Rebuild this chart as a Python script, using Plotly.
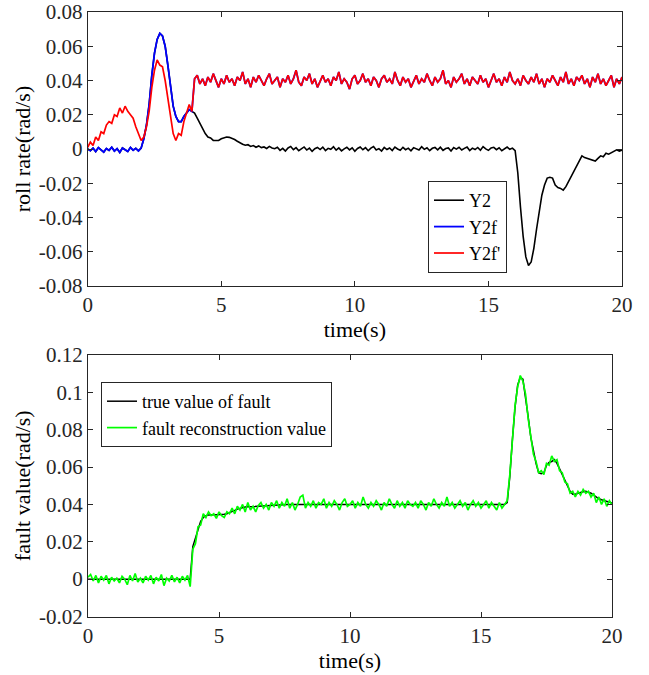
import numpy as np
import plotly.graph_objects as go

time_s = np.round(np.arange(0, 20.0001, 0.1), 1)

# Y2 : roll rate (black)
y2 = [
    0.0000, -0.0010, 0.0005, -0.0015, 0.0008, -0.0005, -0.0018, 0.0003, -0.0008, 0.0010,
    -0.0012, 0.0002, -0.0020, 0.0006, -0.0004, -0.0014, 0.0009, -0.0007, 0.0004, -0.0011,
    0.0005, 0.006, 0.014, 0.026, 0.043, 0.056, 0.064, 0.0675, 0.066, 0.060,
    0.049, 0.036, 0.025, 0.019, 0.016, 0.016, 0.019, 0.021, 0.023, 0.022,
    0.021, 0.018, 0.015, 0.012, 0.009, 0.007, 0.0065, 0.005, 0.0048, 0.005,
    0.006, 0.0065, 0.007, 0.0068, 0.0062, 0.0055, 0.0045, 0.0035, 0.0028, 0.0022,
    0.0025, 0.0015, 0.0020, 0.0010, 0.0018, 0.0008, 0.0012, 0.0003, 0.0015, 0.0006,
    0.0002, 0.0010, -0.0008, 0.0004, -0.0012, 0.0006, 0.0015, -0.0004, 0.0008, -0.0010,
    0.0003, 0.0012, -0.0006, 0.0005, -0.0014, 0.0002, 0.0009, -0.0003, 0.0011, -0.0009,
    0.0004, -0.0002, 0.0013, -0.0007, 0.0006, -0.0011, 0.0001, 0.0010, -0.0005, 0.0007,
    -0.0013, 0.0003, 0.0012, -0.0004, 0.0008, -0.0010, 0.0005, 0.0014, -0.0006, 0.0002,
    -0.0012, 0.0009, -0.0003, 0.0006, -0.0009, 0.0011, 0.0000, -0.0007, 0.0010, -0.0004,
    0.0005, -0.0011, 0.0008, 0.0002, -0.0006, 0.0013, -0.0002, 0.0007, -0.0010, 0.0004,
    0.0009, -0.0005, 0.0011, -0.0008, 0.0003, 0.0006, -0.0012, 0.0008, -0.0001, 0.0010,
    -0.0006, 0.0004, 0.0012, -0.0009, 0.0005, -0.0003, 0.0009, -0.0007, 0.0014, 0.0001,
    -0.0008, 0.0006, 0.0010, -0.0004, 0.0007, -0.0010, 0.0003, 0.0011, -0.0002, 0.0005,
    -0.001, -0.014, -0.034, -0.051, -0.063, -0.068, -0.066, -0.058, -0.047, -0.036,
    -0.027, -0.021, -0.017, -0.0165, -0.017, -0.021, -0.0225, -0.023, -0.024, -0.022,
    -0.019, -0.016, -0.013, -0.010, -0.007, -0.004, -0.005, -0.0055, -0.006, -0.0065,
    -0.007, -0.0055, -0.004, -0.0045, -0.0025, -0.003, -0.002, -0.0015, -0.0005, -0.0012,
    -0.0006,
]

# Y2f' : reconstructed faulty roll rate (red)
y2f_rec = [
    0.001, 0.004, 0.002, 0.007, 0.005, 0.010, 0.009, 0.014, 0.016, 0.015,
    0.020, 0.019, 0.024, 0.021, 0.025, 0.022, 0.020, 0.018, 0.013, 0.009,
    0.005, 0.007, 0.013, 0.022, 0.036, 0.046, 0.052, 0.049, 0.048, 0.040,
    0.030, 0.018, 0.009, 0.005, 0.009, 0.008, 0.016, 0.021, 0.026, 0.022,
    0.041, 0.043, 0.038, 0.041, 0.037, 0.042, 0.039, 0.044, 0.040, 0.036,
    0.041, 0.038, 0.043, 0.039, 0.041, 0.037, 0.042, 0.040, 0.045, 0.038,
    0.041, 0.036, 0.042, 0.039, 0.043, 0.040, 0.037, 0.041, 0.044, 0.038,
    0.040, 0.042, 0.036, 0.041, 0.039, 0.043, 0.038, 0.041, 0.046, 0.039,
    0.037, 0.042, 0.040, 0.044, 0.038, 0.041, 0.036, 0.040, 0.043, 0.039,
    0.041, 0.037, 0.042, 0.040, 0.045, 0.038, 0.041, 0.039, 0.035, 0.041,
    0.043, 0.038, 0.040, 0.044, 0.039, 0.041, 0.037, 0.042, 0.040, 0.036,
    0.041, 0.043, 0.039, 0.041, 0.038, 0.045, 0.040, 0.037, 0.042, 0.039,
    0.041, 0.036, 0.040, 0.043, 0.038, 0.041, 0.039, 0.044, 0.040, 0.037,
    0.042, 0.039, 0.041, 0.046, 0.038, 0.040, 0.036, 0.042, 0.039, 0.041,
    0.044, 0.038, 0.041, 0.037, 0.042, 0.040, 0.038, 0.043, 0.039, 0.041,
    0.036, 0.040, 0.044, 0.039, 0.041, 0.037, 0.042, 0.039, 0.045, 0.040,
    0.038, 0.041, 0.037, 0.043, 0.040, 0.038, 0.042, 0.039, 0.044, 0.038,
    0.041, 0.036, 0.041, 0.039, 0.043, 0.040, 0.037, 0.042, 0.039, 0.045,
    0.038, 0.041, 0.037, 0.042, 0.040, 0.043, 0.038, 0.041, 0.036, 0.042,
    0.039, 0.044, 0.038, 0.041, 0.037, 0.040, 0.043, 0.036, 0.041, 0.038,
    0.042,
]

# Y2f : faulty roll rate (blue); first 4 s read separately, afterwards it lies under Y2f'
y2f_first4s = [
    0.0000, -0.0010, 0.0005, -0.0015, 0.0008, -0.0005, -0.0018, 0.0003, -0.0008, 0.0010,
    -0.0012, 0.0002, -0.0020, 0.0006, -0.0004, -0.0014, 0.0009, -0.0007, 0.0004, -0.0011,
    0.0005, 0.006, 0.014, 0.026, 0.043, 0.056, 0.064, 0.0675, 0.066, 0.060,
    0.049, 0.036, 0.025, 0.019, 0.016, 0.016, 0.019, 0.021, 0.023, 0.022,
]
y2f = y2f_first4s + y2f_rec[len(y2f_first4s):]

# true value of fault (black, lower plot)
fault_true = [
    0.0, 0.0, 0.0, 0.0, 0.0, 0.0, 0.0, 0.0, 0.0, 0.0,
    0.0, 0.0, 0.0, 0.0, 0.0, 0.0, 0.0, 0.0, 0.0, 0.0,
    0.0, 0.0, 0.0, 0.0, 0.0, 0.0, 0.0, 0.0, 0.0, 0.0,
    0.0, 0.0, 0.0, 0.0, 0.0, 0.0, 0.0, 0.0, 0.0, 0.0,
    0.0174, 0.022, 0.027, 0.031, 0.033, 0.034, 0.0343, 0.0345, 0.0345, 0.0345,
    0.0345, 0.0345, 0.0347, 0.035, 0.0355, 0.036, 0.0368, 0.0375, 0.038, 0.0384,
    0.0386, 0.0387, 0.0388, 0.0388, 0.0389, 0.039, 0.0392, 0.0393, 0.0394, 0.0395,
    0.0396, 0.0397, 0.0397, 0.0398, 0.0398, 0.0399, 0.0399, 0.0399, 0.040, 0.040,
    0.040, 0.040, 0.040, 0.040, 0.040, 0.040, 0.040, 0.040, 0.040, 0.040,
    0.040, 0.040, 0.040, 0.040, 0.040, 0.040, 0.040, 0.040, 0.040, 0.040,
    0.040, 0.040, 0.040, 0.040, 0.040, 0.040, 0.040, 0.040, 0.040, 0.040,
    0.040, 0.040, 0.040, 0.040, 0.040, 0.040, 0.040, 0.040, 0.040, 0.040,
    0.040, 0.040, 0.040, 0.040, 0.040, 0.040, 0.040, 0.040, 0.040, 0.040,
    0.040, 0.040, 0.040, 0.040, 0.040, 0.040, 0.040, 0.040, 0.040, 0.040,
    0.040, 0.040, 0.040, 0.040, 0.040, 0.040, 0.040, 0.040, 0.040, 0.040,
    0.040, 0.040, 0.040, 0.040, 0.040, 0.040, 0.040, 0.040, 0.040, 0.040,
    0.041, 0.055, 0.075, 0.092, 0.104, 0.108, 0.107, 0.098, 0.087, 0.076,
    0.068, 0.062, 0.057, 0.0565, 0.057, 0.061, 0.0625, 0.063, 0.064, 0.062,
    0.059, 0.056, 0.053, 0.050, 0.047, 0.0455, 0.0455, 0.046, 0.0465, 0.0468,
    0.047, 0.0465, 0.046, 0.045, 0.044, 0.043, 0.0425, 0.042, 0.0415, 0.041,
    0.0408,
]

# fault reconstruction value (green)
fault_rec = [
    0.001, 0.0025, -0.001, 0.002, -0.002, 0.0015, -0.0005, 0.002, -0.0025, 0.001,
    -0.001, 0.0005, -0.002, 0.0015, 0.0, -0.003, 0.002, -0.001, 0.003, -0.0015,
    0.0005, -0.002, 0.0015, -0.0005, 0.002, -0.0025, 0.001, -0.001, 0.0025, -0.0035,
    0.0005, -0.001, 0.002, -0.0015, 0.001, -0.002, 0.0015, -0.0005, 0.002, -0.004,
    0.016, 0.019, 0.028, 0.029, 0.035, 0.033, 0.036, 0.034, 0.035, 0.0325,
    0.036, 0.034, 0.033, 0.036, 0.035, 0.038, 0.035, 0.039, 0.037, 0.040,
    0.036, 0.041, 0.037, 0.039, 0.036, 0.0395, 0.041, 0.038, 0.040, 0.037,
    0.041, 0.039, 0.042, 0.038, 0.041, 0.039, 0.043, 0.038, 0.041, 0.037,
    0.040, 0.044, 0.045, 0.038, 0.041, 0.039, 0.042, 0.038, 0.041, 0.040,
    0.043, 0.038, 0.041, 0.039, 0.042, 0.040, 0.037, 0.041, 0.043, 0.039,
    0.040, 0.042, 0.038, 0.041, 0.039, 0.044, 0.040, 0.038, 0.041, 0.039,
    0.042, 0.040, 0.037, 0.041, 0.039, 0.043, 0.040, 0.038, 0.042, 0.039,
    0.041, 0.038, 0.042, 0.040, 0.039, 0.041, 0.038, 0.042, 0.040, 0.037,
    0.041, 0.039, 0.043, 0.040, 0.038, 0.041, 0.039, 0.044, 0.039, 0.041,
    0.038, 0.040, 0.042, 0.039, 0.041, 0.037, 0.040, 0.042, 0.039, 0.041,
    0.038, 0.040, 0.042, 0.038, 0.041, 0.039, 0.037, 0.041, 0.038, 0.040,
    0.042, 0.056, 0.074, 0.093, 0.103, 0.109, 0.106, 0.099, 0.086, 0.077,
    0.067, 0.063, 0.057, 0.058, 0.056, 0.062, 0.061, 0.066, 0.063, 0.064,
    0.058, 0.057, 0.052, 0.051, 0.046, 0.047, 0.044, 0.047, 0.045, 0.048,
    0.046, 0.047, 0.044, 0.046, 0.041, 0.044, 0.040, 0.043, 0.039, 0.042,
    0.040,
]

# tick labels
x_ticks = [0, 5, 10, 15, 20]
x_ticktext = ["0", "5", "10", "15", "20"]
top_y_ticks = [-0.08, -0.06, -0.04, -0.02, 0, 0.02, 0.04, 0.06, 0.08]
top_y_ticktext = ["-0.08", "-0.06", "-0.04", "-0.02", "0", "0.02", "0.04", "0.06", "0.08"]
bot_y_ticks = [-0.02, 0, 0.02, 0.04, 0.06, 0.08, 0.1, 0.12]
bot_y_ticktext = ["-0.02", "0", "0.02", "0.04", "0.06", "0.08", "0.1", "0.12"]

# ---------------- figure ----------------
W, H = 649, 675
FONT = "Liberation Serif, Times New Roman, serif"
AX = "#262626"

fig = go.Figure()
fig.add_trace(go.Scatter(x=time_s, y=y2, mode="lines", name="Y2",
                         line=dict(color="#000000", width=1.6), xaxis="x", yaxis="y", legend="legend"))
fig.add_trace(go.Scatter(x=time_s, y=y2f, mode="lines", name="Y2f",
                         line=dict(color="#0000FF", width=1.8), xaxis="x", yaxis="y", legend="legend"))
fig.add_trace(go.Scatter(x=time_s, y=y2f_rec, mode="lines", name="Y2f'",
                         line=dict(color="#FF0000", width=1.7), xaxis="x", yaxis="y", legend="legend"))
fig.add_trace(go.Scatter(x=time_s, y=fault_true, mode="lines", name="true value of fault",
                         line=dict(color="#000000", width=1.5), xaxis="x2", yaxis="y2", legend="legend2"))
fig.add_trace(go.Scatter(x=time_s, y=fault_rec, mode="lines", name="fault reconstruction value",
                         line=dict(color="#00FF00", width=1.7), xaxis="x2", yaxis="y2", legend="legend2"))


def px_x(p):
    return p / W


def px_y(p):
    return 1 - p / H


def axis_style(**kw):
    d = dict(showline=True, linecolor=AX, linewidth=1, mirror="ticks", ticks="inside",
             ticklen=5, tickcolor=AX, tickwidth=1, showgrid=False, zeroline=False,
             automargin=False,
             tickfont=dict(family=FONT, size=21, color=AX))
    d.update(kw)
    return d


def title(text, standoff):
    return dict(text=text, font=dict(family=FONT, size=22, color="#000000"), standoff=standoff)


fig.update_layout(
    width=W, height=H,
    margin=dict(l=0, r=0, t=0, b=0, autoexpand=False),
    font=dict(family=FONT, size=21, color=AX),
    paper_bgcolor="white", plot_bgcolor="white",
    xaxis=axis_style(domain=[px_x(87.7), px_x(622)], range=[0, 20], anchor="y",
                     tickvals=x_ticks, ticktext=x_ticktext, title=title("time(s)", 2)),
    yaxis=axis_style(domain=[px_y(286), px_y(12)], range=[-0.08, 0.08], anchor="x",
                     tickvals=top_y_ticks, ticktext=top_y_ticktext, title=title("roll rate(rad/s)", 2)),
    xaxis2=axis_style(domain=[px_x(88), px_x(612)], range=[0, 20], anchor="y2",
                      tickvals=x_ticks, ticktext=x_ticktext, title=title("time(s)", 2)),
    yaxis2=axis_style(domain=[px_y(616.5), px_y(355)], range=[-0.02, 0.12], anchor="x2",
                      tickvals=bot_y_ticks, ticktext=bot_y_ticktext, title=title("fault value(rad/s)", 2)),
    legend=dict(x=px_x(428), y=px_y(181), xanchor="left", yanchor="top",
                bgcolor="white", bordercolor=AX, borderwidth=1,
                font=dict(family=FONT, size=18, color="#000000"),
                itemwidth=30, tracegroupgap=0),
    legend2=dict(x=px_x(101), y=px_y(382), xanchor="left", yanchor="top",
                 bgcolor="white", bordercolor=AX, borderwidth=1,
                 font=dict(family=FONT, size=18, color="#000000"),
                 itemwidth=30, tracegroupgap=0),
    showlegend=True,
)

# remove the default 8 px page margin so the figure sits at the window origin
fig.write_html("out.html", config={"displayModeBar": False},
               post_script="document.body.style.margin='0px';")
